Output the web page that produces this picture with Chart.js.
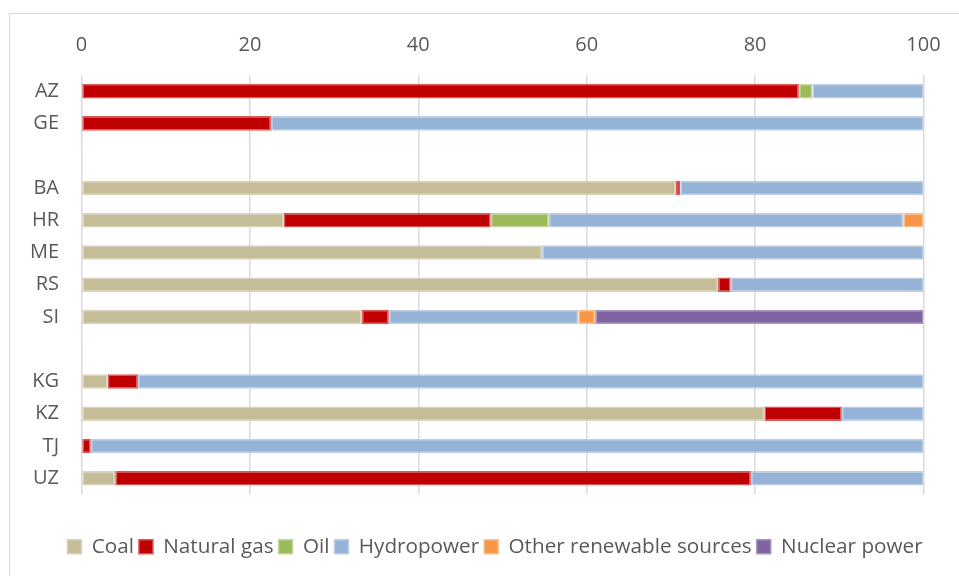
<!DOCTYPE html>
<html>
<head>
<meta charset="utf-8">
<script src="https://cdn.jsdelivr.net/npm/chart.js@4/dist/chart.umd.min.js"></script>
<style>
  html, body { margin: 0; padding: 0; background: #ffffff; overflow: hidden; }
  #frame { position: absolute; left: 9px; top: 13px; width: 1000px; height: 1000px; border: 1px solid #D9D9D9; box-sizing: border-box; }
  #c { position: absolute; left: 0; top: 0; }
</style>
</head>
<body>
<div id="frame"></div>
<canvas id="c" width="959" height="576"></canvas>
<script>
const categories = ['AZ', 'GE', '', 'BA', 'HR', 'ME', 'RS', 'SI', '', 'KG', 'KZ', 'TJ', 'UZ'];
const coal       = [null, null, null, 70.6, 24.0, 54.7, 75.6, 33.3, null, 3.1, 81.1, null, 4.0];
const naturalGas = [85.2, 22.5, null, 0.5, 24.6, null, 1.5, 3.2, null, 3.6, 9.2, 1.1, 75.5];
const oil        = [1.6, null, null, null, 6.9, null, null, null, null, null, null, null, null];
const hydropower = [13.2, 77.5, null, 28.9, 42.1, 45.3, 22.9, 22.5, null, 93.3, 9.7, 98.9, 20.5];
const otherRenew = [null, null, null, null, 2.4, null, null, 2.0, null, null, null, null, null];
const nuclear    = [null, null, null, null, null, null, null, 39.0, null, null, null, null, null];
const xTicks = [0, 20, 40, 60, 80, 100];

const FONT = "'Open Sans', 'DejaVu Sans', sans-serif";
const TXT = '#595959';

function ds(label, data, bg, border) {
  return { label, data, backgroundColor: bg, borderColor: border, borderWidth: 1.5, borderSkipped: false,
           categoryPercentage: 1.0, barPercentage: 0.45 };
}

const legendShift = {
  id: 'legendShift',
  afterLayout(chart) {
    const l = chart.legend;
    if (!l) return;
    l.left = 31; l.right = 959; l.width = 928;
  }
};

new Chart(document.getElementById('c'), {
  type: 'bar',
  data: {
    labels: categories,
    datasets: [
      ds('Coal', coal, '#C4BD97', '#D8D3BB'),
      ds('Natural gas', naturalGas, '#C00000', '#D65A5A'),
      ds('Oil', oil, '#9BBB59', '#C3D69B'),
      ds('Hydropower', hydropower, '#95B3D7', '#BCCFE6'),
      ds('Other renewable sources', otherRenew, '#F79646', '#FAC090'),
      ds('Nuclear power', nuclear, '#8064A2', '#A995C2')
    ]
  },
  plugins: [legendShift],
  options: {
    indexAxis: 'y',
    responsive: false,
    animation: false,
    devicePixelRatio: 1,
    layout: { padding: { left: 0, right: 35.5, top: 0, bottom: 9 } },
    scales: {
      x: {
        position: 'top',
        stacked: true,
        min: 0, max: 100,
        afterBuildTicks: (s) => { s.ticks = xTicks.map(v => ({ value: v })); },
        afterFit: (s) => { s.height = 75; },
        grid: { color: '#D9D9D9', lineWidth: 1.5, drawTicks: false },
        border: { display: false },
        ticks: { color: TXT, font: { family: FONT, size: 20 }, padding: 17.5, maxRotation: 0 }
      },
      y: {
        stacked: true,
        afterFit: (s) => { s.width = 81.5; },
        grid: { display: false, drawTicks: false },
        border: { display: false },
        ticks: { color: TXT, font: { family: FONT, size: 20 }, padding: 22.5, autoSkip: false }
      }
    },
    plugins: {
      tooltip: { enabled: false },
      legend: {
        position: 'bottom',
        align: 'center',
        title: { display: true, text: '', font: { size: 10 }, padding: { top: 25, bottom: 0 } },
        labels: { color: TXT, font: { family: FONT, size: 20.7 }, boxWidth: 14, boxHeight: 14, padding: 5 }
      }
    }
  }
});
</script>
</body>
</html>
